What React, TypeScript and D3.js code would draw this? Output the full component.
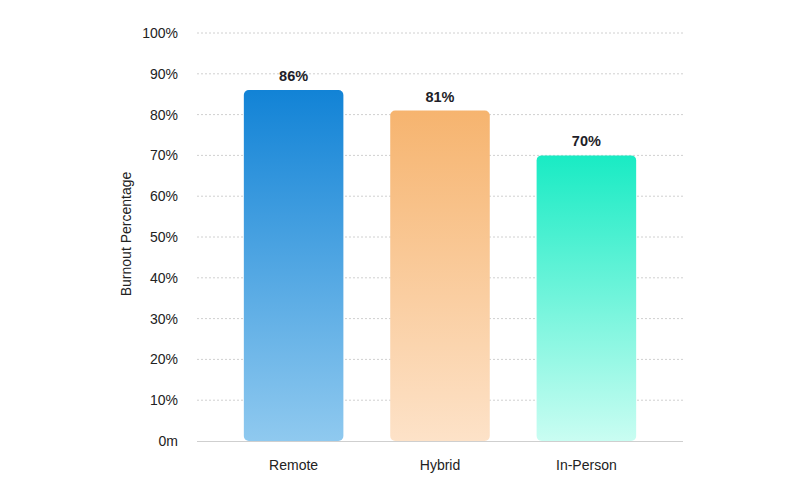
import { useEffect, useRef } from "react";
import * as d3 from "d3";

const categories = ["Remote", "Hybrid", "In-Person"];
const burnout = [86, 81, 70];
const yTicks = [0, 10, 20, 30, 40, 50, 60, 70, 80, 90, 100];
const yTickLabels = ["0m", "10%", "20%", "30%", "40%", "50%", "60%", "70%", "80%", "90%", "100%"];
const barTop = ["#1283d6", "#f6b46f", "#19ebc4"];
const barBottom = ["#8fc9ef", "#fde2c8", "#c9fdf2"];

const W = 800;
const H = 487;

export default function App() {
  const svgRef = useRef<SVGSVGElement | null>(null);

  useEffect(() => {
    const svg = svgRef.current;
    if (!svg) return;
    svg.innerHTML = "";
    const root = d3.select(svg);

    const x = d3.scaleBand().domain(categories).range([197, 683]).padding(0.32);
    const y = d3.scaleLinear().domain([0, 100]).range([441, 33]);

    const defs = root.append("defs");
    categories.forEach((c, i) => {
      const g = defs
        .append("linearGradient")
        .attr("id", `grad${i}`)
        .attr("x1", 0)
        .attr("y1", 0)
        .attr("x2", 0)
        .attr("y2", 1);
      g.append("stop").attr("offset", "0%").attr("stop-color", barTop[i]);
      g.append("stop").attr("offset", "100%").attr("stop-color", barBottom[i]);
    });

    // grid
    root
      .append("g")
      .selectAll("line")
      .data(yTicks.filter((t) => t > 0))
      .join("line")
      .attr("x1", 197)
      .attr("x2", 683)
      .attr("y1", (d) => y(d))
      .attr("y2", (d) => y(d))
      .attr("stroke", "#d0d0d0")
      .attr("stroke-width", 1)
      .attr("stroke-dasharray", "2,2");

    // tick labels
    root
      .append("g")
      .selectAll("text")
      .data(yTicks)
      .join("text")
      .attr("x", 178)
      .attr("y", (d) => y(d))
      .attr("dy", "0.35em")
      .attr("text-anchor", "end")
      .attr("font-size", 14)
      .attr("fill", "#222")
      .text((d, i) => yTickLabels[i]);

    // bars
    root
      .append("g")
      .selectAll("rect")
      .data(burnout)
      .join("rect")
      .attr("x", (d, i) => x(categories[i])!)
      .attr("y", (d) => y(d))
      .attr("width", x.bandwidth())
      .attr("height", (d) => y(0) - y(d))
      .attr("rx", 5)
      .attr("fill", (d, i) => `url(#grad${i})`);

    // baseline
    root
      .append("line")
      .attr("x1", 197)
      .attr("x2", 683)
      .attr("y1", y(0) + 0.5)
      .attr("y2", y(0) + 0.5)
      .attr("stroke", "#cfcfcf")
      .attr("stroke-width", 1);

    // value labels
    root
      .append("g")
      .selectAll("text")
      .data(burnout)
      .join("text")
      .attr("x", (d, i) => x(categories[i])! + x.bandwidth() / 2)
      .attr("y", (d) => y(d) - 9)
      .attr("text-anchor", "middle")
      .attr("font-size", 14.5)
      .attr("font-weight", "bold")
      .attr("fill", "#1e1e28")
      .text((d) => `${d}%`);

    // x labels
    root
      .append("g")
      .selectAll("text")
      .data(categories)
      .join("text")
      .attr("x", (d) => x(d)! + x.bandwidth() / 2)
      .attr("y", 470)
      .attr("text-anchor", "middle")
      .attr("font-size", 14)
      .attr("fill", "#222")
      .text((d) => d);

    // y title
    root
      .append("text")
      .attr("transform", `translate(131,${(y(0) + y(100)) / 2 - 3}) rotate(-90)`)
      .attr("text-anchor", "middle")
      .attr("font-size", 14)
      .attr("fill", "#222")
      .text("Burnout Percentage");
  }, []);

  return (
    <svg
      ref={svgRef}
      width={W}
      height={H}
      style={{ position: "absolute", left: 0, top: 0, fontFamily: "'Liberation Sans', Arial, sans-serif", background: "#fff" }}
    />
  );
}
